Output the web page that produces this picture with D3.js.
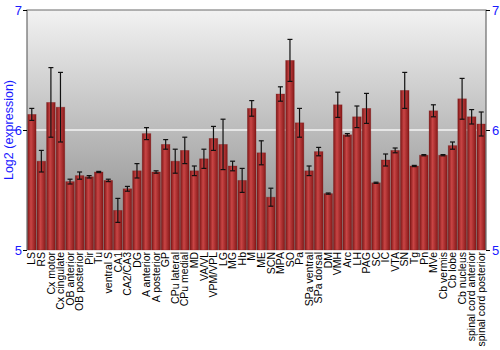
<!DOCTYPE html>
<html>
<head>
<meta charset="utf-8">
<script src="https://cdn.jsdelivr.net/npm/d3@7"></script>
<style>
  body { margin: 0; background: #fff; }
  text { font-family: "Liberation Sans", Arial, sans-serif; }
</style>
</head>
<body>
<div class="chart"></div>
<script>
const categories = ["LS", "RS", "Cx motor", "Cx cingulate", "OB anterior", "OB posterior", "Pir", "Tu", "ventral S", "CA1", "CA2/CA3", "DG", "A anterior", "A posterior", "GP", "CPu lateral", "CPu medial", "MD", "VA/VL", "VPM/VPL", "LG", "MG", "Hb", "M", "ME", "SCN", "MPA", "SO", "Pa", "SPa ventral", "SPa dorsal", "DM", "VMH", "Arc", "LH", "PAG", "SC", "IC", "VTA", "SN", "Tg", "Pn", "MVe", "Cb vermis", "Cb lobe", "Cb nucleus", "spinal cord anterior", "spinal cord posterior"]
const values = [6.13, 5.74, 6.23, 6.19, 5.57, 5.62, 5.61, 5.65, 5.58, 5.33, 5.51, 5.66, 5.97, 5.65, 5.88, 5.74, 5.83, 5.66, 5.76, 5.93, 5.88, 5.70, 5.58, 6.18, 5.81, 5.44, 6.30, 6.58, 6.06, 5.66, 5.82, 5.47, 6.21, 5.96, 6.11, 6.18, 5.56, 5.75, 5.83, 6.33, 5.70, 5.79, 6.16, 5.79, 5.87, 6.26, 6.11, 6.05]
const errors = [0.05, 0.09, 0.29, 0.29, 0.02, 0.03, 0.01, 0.005, 0.01, 0.1, 0.02, 0.06, 0.05, 0.01, 0.04, 0.1, 0.11, 0.04, 0.08, 0.1, 0.21, 0.04, 0.1, 0.065, 0.1, 0.075, 0.06, 0.175, 0.12, 0.04, 0.035, 0.005, 0.105, 0.01, 0.09, 0.125, 0.005, 0.05, 0.02, 0.15, 0.005, 0.005, 0.05, 0.005, 0.03, 0.17, 0.06, 0.1]
const yTicks = [5, 6, 7]

const width = 500, height = 350
const margin = { top: 10, right: 14, bottom: 100, left: 27 }
const graphWidth = width - margin.left - margin.right
const graphHeight = height - margin.top - margin.bottom

const svg = d3.select(".chart").append("svg").attr("width", width).attr("height", height)

const defs = svg.append("defs")
const bg = defs.append("linearGradient").attr("id", "bgGradient").attr("x1", "0%").attr("x2", "0%").attr("y1", "0%").attr("y2", "100%")
bg.append("stop").attr("offset", "0%").attr("stop-color", "#f2f2f2")
bg.append("stop").attr("offset", "100%").attr("stop-color", "#858585")

const barGrad = defs.append("linearGradient").attr("id", "barGradient").attr("x1", "0%").attr("x2", "100%").attr("y1", "0%").attr("y2", "0%")
barGrad.append("stop").attr("offset", "0%").attr("stop-color", "#7e1616")
barGrad.append("stop").attr("offset", "40%").attr("stop-color", "#c94545")
barGrad.append("stop").attr("offset", "100%").attr("stop-color", "#861818")

const graph = svg.append("g").attr("transform", `translate(${margin.left}, ${margin.top})`)

const xScale = d3.scaleBand().domain(categories).range([0, graphWidth]).paddingInner(0.1).paddingOuter(0.05)
const yScale = d3.scaleLinear().domain([5, 7]).range([graphHeight, 0])

graph.append("rect").attr("width", graphWidth).attr("height", graphHeight).attr("fill", "url(#bgGradient)")

// white grid line
graph.selectAll(".grid").data(yTicks.filter(d => d > 5 && d < 7)).enter().append("line")
  .attr("x1", 0).attr("x2", graphWidth)
  .attr("y1", d => yScale(d)).attr("y2", d => yScale(d))
  .attr("stroke", "#f4f4f4").attr("stroke-width", 1.5)

graph.selectAll(".bar").data(values).enter().append("rect")
  .attr("x", (d, i) => xScale(categories[i]))
  .attr("width", xScale.bandwidth())
  .attr("y", d => yScale(d))
  .attr("height", d => graphHeight - yScale(d))
  .attr("fill", "url(#barGradient)")
  .attr("stroke", "rgba(120,20,20,0.35)").attr("stroke-width", 0.8)

const err = graph.selectAll(".err").data(values).enter().append("g")
const cx = i => xScale(categories[i]) + xScale.bandwidth() / 2
err.append("line")
  .attr("x1", (d, i) => cx(i)).attr("x2", (d, i) => cx(i))
  .attr("y1", (d, i) => yScale(d + errors[i])).attr("y2", (d, i) => yScale(d - errors[i]))
  .attr("stroke", "#111").attr("stroke-width", 1.2)
err.append("line")
  .attr("x1", (d, i) => cx(i) - 2.5).attr("x2", (d, i) => cx(i) + 2.5)
  .attr("y1", (d, i) => yScale(d + errors[i])).attr("y2", (d, i) => yScale(d + errors[i]))
  .attr("stroke", "#111").attr("stroke-width", 1.2)
err.append("line")
  .attr("x1", (d, i) => cx(i) - 2.5).attr("x2", (d, i) => cx(i) + 2.5)
  .attr("y1", (d, i) => yScale(d - errors[i])).attr("y2", (d, i) => yScale(d - errors[i]))
  .attr("stroke", "#111").attr("stroke-width", 1.2)

// border
graph.append("path")
  .attr("d", `M0,${graphHeight}V0H${graphWidth}V${graphHeight}`)
  .attr("fill", "none").attr("stroke", "#6a6a6a").attr("stroke-width", 1.2)

const yAxisL = graph.append("g").call(d3.axisLeft(yScale).tickValues(yTicks).tickSize(4).tickFormat(d3.format("d")))
const yAxisR = graph.append("g").attr("transform", `translate(${graphWidth}, 0)`)
  .call(d3.axisRight(yScale).tickValues(yTicks).tickSize(4).tickFormat(d3.format("d")))
;[yAxisL, yAxisR].forEach(a => {
  a.select(".domain").remove()
  a.selectAll("line").attr("stroke", "#000")
  a.selectAll("text").attr("fill", "#1a1aff").style("font-size", "13px")
})
yAxisL.selectAll("text").attr("x", -5)
yAxisR.selectAll("text").attr("x", 6)

const xAxis = graph.append("g").attr("transform", `translate(0, ${graphHeight})`)
  .call(d3.axisBottom(xScale).tickSize(0))
xAxis.select(".domain").remove()
xAxis.selectAll("text")
  .attr("transform", "rotate(-90)")
  .attr("x", -2).attr("y", 0).attr("dy", "0.35em")
  .style("text-anchor", "end")
  .style("font-size", "10.5px").attr("fill", "#000")

svg.append("text")
  .attr("transform", `translate(13, ${margin.top + graphHeight / 2}) rotate(-90)`)
  .attr("text-anchor", "middle")
  .attr("fill", "#1a1aff").style("font-size", "12.5px")
  .text("Log2 (expression)")
</script>
</body>
</html>
